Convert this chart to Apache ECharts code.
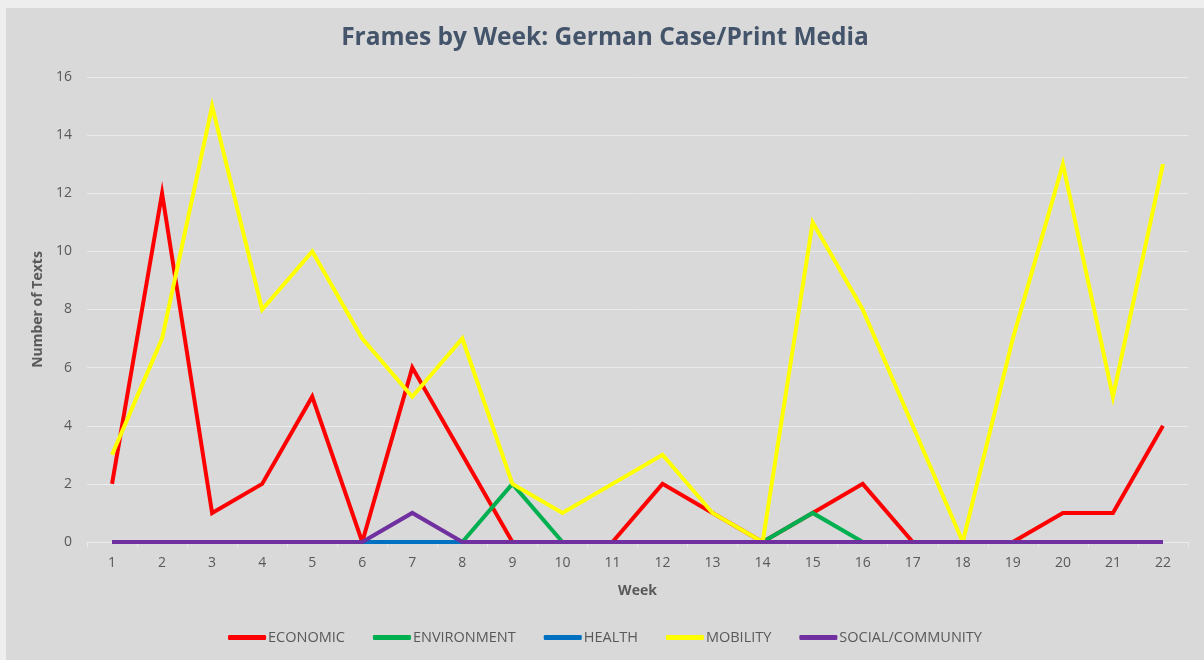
<!DOCTYPE html>
<html>
<head>
<meta charset="utf-8">
<script src="https://cdn.jsdelivr.net/npm/echarts@6/dist/echarts.min.js"></script>
<style>
  html, body { margin: 0; padding: 0; background: #eeeeee; }
  #main { position: absolute; left: 6px; top: 8px; width: 1198px; height: 652px; background: #d9d9d9; }
</style>
</head>
<body>
<div id="main"></div>
<script>
var weeks = ["1","2","3","4","5","6","7","8","9","10","11","12","13","14","15","16","17","18","19","20","21","22"];
var economic =    [2, 12, 1, 2, 5, 0, 6, 3, 0, 0, 0, 2, 1, 0, 1, 2, 0, 0, 0, 1, 1, 4];
var environment = [0, 0, 0, 0, 0, 0, 0, 0, 2, 0, 0, 0, 0, 0, 1, 0, 0, 0, 0, 0, 0, 0];
var health =      [0, 0, 0, 0, 0, 0, 0, 0, 0, 0, 0, 0, 0, 0, 0, 0, 0, 0, 0, 0, 0, 0];
var mobility =    [3, 7, 15, 8, 10, 7, 5, 7, 2, 1, 2, 3, 1, 0, 11, 8, 4, 0, 7, 13, 5, 13];
var social =      [0, 0, 0, 0, 0, 0, 1, 0, 0, 0, 0, 0, 0, 0, 0, 0, 0, 0, 0, 0, 0, 0];

var font = "'Open Sans', sans-serif";
var textColor = "#595959";

function makeLine(name, data, color) {
  return {
    name: name,
    type: "line",
    data: data,
    symbol: "none",
    lineStyle: { color: color, width: 4, join: "miter" },
    itemStyle: { color: color },
  };
}

var myChart = echarts.init(document.getElementById("main"));

var option = {
  animation: false,
  backgroundColor: "#d9d9d9",
  title: {
    text: "Frames by Week: German Case/Print Media",
    left: "center",
    top: 13,
    textStyle: {
      fontFamily: font,
      fontSize: 24.5,
      fontWeight: "bold",
      color: "#44546a",
    },
  },
  legend: {
    bottom: 10,
    left: "center",
    itemWidth: 38,
    itemHeight: 5,
    itemGap: 28,
    icon: "roundRect",
    textStyle: { fontFamily: font, fontSize: 14.5, color: textColor, padding: [0, 0, 0, -3] },
  },
  grid: { left: 81, right: 16, top: 69, bottom: 118 },
  xAxis: {
    type: "category",
    data: weeks,
    name: "Week",
    nameLocation: "middle",
    nameGap: 42,
    nameTextStyle: { fontFamily: font, fontSize: 14, fontWeight: "bold", color: textColor },
    axisLine: { lineStyle: { color: "#e8ebf0", width: 1 } },
    axisTick: { show: true, length: 5, lineStyle: { color: "#e8ebf0" } },
    axisLabel: { fontFamily: font, fontSize: 14, color: textColor, margin: 14 },
  },
  yAxis: {
    type: "value",
    min: 0,
    max: 16,
    interval: 2,
    name: "Number of Texts",
    nameLocation: "middle",
    nameGap: 31,
    nameTextStyle: { fontFamily: font, fontSize: 14, fontWeight: "bold", color: textColor },
    axisLine: { show: false },
    axisTick: { show: false },
    axisLabel: { fontFamily: font, fontSize: 14, color: textColor, margin: 15 },
    splitLine: { lineStyle: { color: "#e8ebf0", width: 1 } },
  },
  series: [
    makeLine("ECONOMIC", economic, "#ff0000"),
    makeLine("ENVIRONMENT", environment, "#00b050"),
    makeLine("HEALTH", health, "#0070c0"),
    makeLine("MOBILITY", mobility, "#ffff00"),
    makeLine("SOCIAL/COMMUNITY", social, "#7030a0"),
  ],
};

myChart.setOption(option);
</script>
</body>
</html>
